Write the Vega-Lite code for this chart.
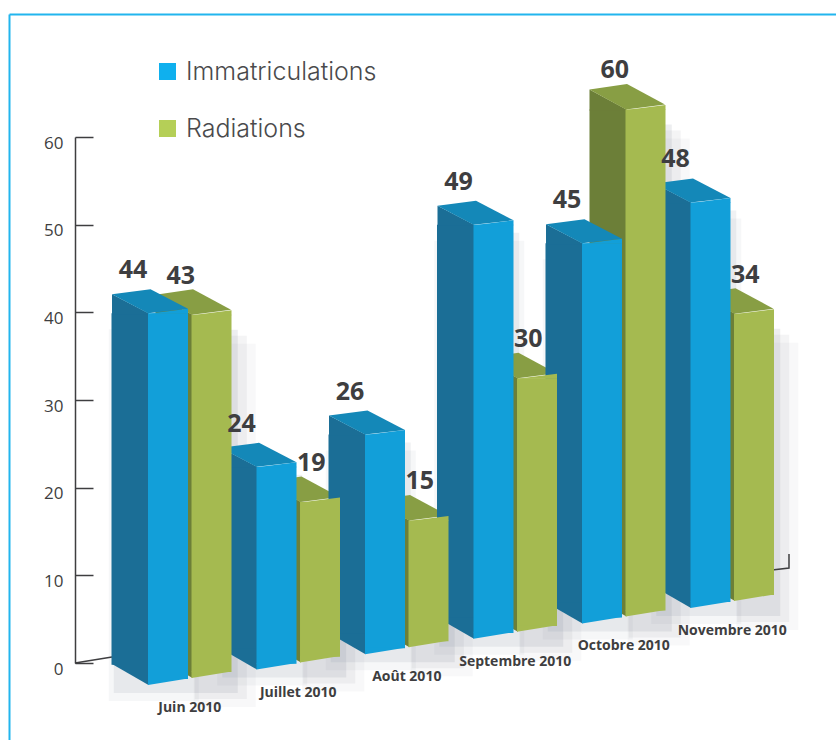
{
"$schema":"https://vega.github.io/schema/vega-lite/v6.json",
"width":827,"height":726,"autosize":{"type":"none"},
"padding":{"left":9,"top":14,"right":0,"bottom":0},
"background":"white",
"config":{"view":{"stroke":null}},
"params":[{"name":"months","value":["Juin 2010","Juillet 2010","Août 2010","Septembre 2010","Octobre 2010","Novembre 2010"]}],
"datasets":{"d":[
{"month":"Juin 2010","series":"Immatriculations","value":44},{"month":"Juin 2010","series":"Radiations","value":43},
{"month":"Juillet 2010","series":"Immatriculations","value":24},{"month":"Juillet 2010","series":"Radiations","value":19},
{"month":"Août 2010","series":"Immatriculations","value":26},{"month":"Août 2010","series":"Radiations","value":15},
{"month":"Septembre 2010","series":"Immatriculations","value":49},{"month":"Septembre 2010","series":"Radiations","value":30},
{"month":"Octobre 2010","series":"Immatriculations","value":45},{"month":"Octobre 2010","series":"Radiations","value":60},
{"month":"Novembre 2010","series":"Immatriculations","value":48},{"month":"Novembre 2010","series":"Radiations","value":34}
]},
"data":{"name":"d"},
"resolve":{"scale":{"x":"independent","y":"independent","color":"independent"}},
"layer":[
{"data":{"values":[{"a":0,"b":1}]},
 "mark":{"type":"point","opacity":0},
 "encoding":{
  "x":{"field":"a","type":"quantitative","scale":{"domain":[0,1]},"axis":{"orient":"top","title":null,"ticks":false,"labels":false,"grid":false,"domainColor":"#22b5ee","domainWidth":2}},
  "y":{"field":"b","type":"quantitative","scale":{"domain":[0,1]},"axis":{"orient":"left","title":null,"ticks":false,"labels":false,"grid":false,"domainColor":"#22b5ee","domainWidth":2}}
 }},
{"mark":{"type":"point","opacity":0},
 "encoding":{
  "y":{"field":"value","type":"quantitative","scale":{"domain":[0,60],"range":[649,123],"nice":false},
   "axis":{"orient":"left","title":null,"grid":false,"values":[0,10,20,30,40,50,60],"offset":-66,"domainColor":"#3e3e40","domainWidth":1.5,"tickColor":"#3e3e40","tickWidth":1.5,"tickSize":-18,"labelPadding":30,"labelFont":"Open Sans","labelFontSize":17,"labelColor":"#3e3e40","labelOffset":6}}
 }},
{"mark":{"type":"point","opacity":0,"filled":true},
 "encoding":{
  "color":{"field":"series","type":"nominal","scale":{"domain":["Immatriculations","Radiations"],"range":["#0fb0ee","#b5cf57"]},
   "legend":{"orient":"none","legendX":146,"legendY":45,"title":null,"symbolType":"square","symbolSize":289,"symbolOpacity":1,"symbolStrokeWidth":0,"labelFontSize":25,"labelFont":"Inter","labelFontWeight":300,"labelColor":"#4a4a4c","labelLimit":300,"rowPadding":31,"labelOffset":6}}
 }},
{"encoding":{
  "x":{"field":"month","type":"nominal","sort":null,"axis":null,"scale":{"type":"band","domain":["Juin 2010","Juillet 2010","Août 2010","Septembre 2010","Octobre 2010","Novembre 2010"],"range":[137.25,766.75],"paddingInner":0.198,"paddingOuter":0}},
  "y":{"field":"value","type":"quantitative","axis":null,"scale":{"domain":[0,60],"range":[671,164],"nice":false}}
 },
 "layer":[
 {"transform":[{"filter":"datum.series=='Radiations'"}],"mark":{"type":"bar","color":"#6e7785","opacity":0.12,"width":44,"xOffset":26,"yOffset":{"expr":"-15.4*indexof(months,datum.month)+8"},"y2Offset":{"expr":"-15.4*indexof(months,datum.month)+3"}},"encoding":{}},
 {"transform":[{"filter":"datum.series=='Radiations'"}],"mark":{"type":"bar","color":"#6e7785","opacity":0.08,"width":52,"xOffset":31,"yOffset":{"expr":"-15.4*indexof(months,datum.month)+14"},"y2Offset":{"expr":"-15.4*indexof(months,datum.month)+9"}},"encoding":{}},
 {"transform":[{"filter":"datum.series=='Radiations'"}],"mark":{"type":"bar","color":"#6e7785","opacity":0.05,"width":62,"xOffset":35,"yOffset":{"expr":"-15.4*indexof(months,datum.month)+22"},"y2Offset":{"expr":"-15.4*indexof(months,datum.month)+15"}},"encoding":{}},
 {"transform":[{"filter":"datum.series=='Immatriculations'"}],"mark":{"type":"bar","color":"#6e7785","opacity":0.1,"width":80,"xOffset":-36,"yOffset":{"expr":"-15.4*indexof(months,datum.month)+8"},"y2Offset":{"expr":"-15.4*indexof(months,datum.month)+8"}},"encoding":{}},
 {"transform":[{"filter":"datum.series=='Immatriculations'"}],"mark":{"type":"bar","color":"#6e7785","opacity":0.06,"width":90,"xOffset":-36,"yOffset":{"expr":"-15.4*indexof(months,datum.month)+16"},"y2Offset":{"expr":"-15.4*indexof(months,datum.month)+16"}},"encoding":{}},

 {"transform":[{"filter":"datum.month=='Juin 2010'&&datum.series=='Immatriculations'"}],"mark":{"type":"point","shape":"M-93,-22L-56,-28","size":4,"filled":false,"color":"#3e3e40","strokeWidth":1.5,"opacity":1,"xOffset":-21.75},"encoding":{"y":{"datum":0}}},
 {"transform":[{"filter":"datum.month=='Novembre 2010'&&datum.series=='Radiations'"}],"mark":{"type":"point","shape":"M18,-31L35,-33L35,-47","size":4,"filled":false,"color":"#3e3e40","strokeWidth":1.5,"opacity":1,"xOffset":21.75,"yOffset":{"expr":"-15.4*5-7"}},"encoding":{"y":{"datum":0}}},

 {"transform":[{"filter":"datum.series=='Radiations'"}],"mark":{"type":"bar","color":"#6c7f38","width":37,"xOffset":-15.75,"yOffset":{"expr":"-15.4*indexof(months,datum.month)-7"},"y2Offset":{"expr":"-15.4*indexof(months,datum.month)-7"}},"encoding":{"y2":{"datum":2.4}}},
 {"transform":[{"filter":"datum.series=='Radiations'"}],"mark":{"type":"point","shape":"M-56,-20L-19,0L-19,1L-56,1Z","size":4,"filled":true,"color":"#6c7f38","opacity":1,"xOffset":21.75,"yOffset":{"expr":"-15.4*indexof(months,datum.month)-7"}}},
 {"transform":[{"filter":"datum.series=='Radiations'"}],"mark":{"type":"point","shape":"M-56,-20L-19.5,0L19.5,-5L-18.5,-25.5Z","size":4,"filled":true,"color":"#889e44","opacity":1,"xOffset":21.75,"yOffset":{"expr":"-15.4*indexof(months,datum.month)-7"}}},
 {"transform":[{"filter":"datum.series=='Radiations'"}],"mark":{"type":"point","shape":"M-56,-21L-19,-21L-19,0Z","size":4,"filled":true,"color":"#6c7f38","opacity":1,"xOffset":21.75,"yOffset":{"expr":"-15.4*indexof(months,datum.month)-7"}},"encoding":{"y":{"datum":0}}},

 {"transform":[{"filter":"datum.series=='Immatriculations'"}],"mark":{"type":"bar","color":"#1b6e96","width":37,"xOffset":-59.75,"yOffset":{"expr":"-15.4*indexof(months,datum.month)"},"y2Offset":{"expr":"-15.4*indexof(months,datum.month)"}},"encoding":{"y2":{"datum":2.4}}},
 {"transform":[{"filter":"datum.series=='Immatriculations'"}],"mark":{"type":"point","shape":"M-56,-19L-19.5,0L-19.5,1L-56,1Z","size":4,"filled":true,"color":"#1b6e96","opacity":1,"xOffset":-21.75,"yOffset":{"expr":"-15.4*indexof(months,datum.month)"}}},
 {"transform":[{"filter":"datum.series=='Immatriculations'"}],"mark":{"type":"point","shape":"M-56,-19L-20,0L20,-4.5L-17.5,-24Z","size":4,"filled":true,"color":"#1488b8","opacity":1,"xOffset":-21.75,"yOffset":{"expr":"-15.4*indexof(months,datum.month)"}}},
 {"transform":[{"filter":"datum.series=='Immatriculations'"}],"mark":{"type":"point","shape":"M-56,-21L-19.5,-21L-19.5,0Z","size":4,"filled":true,"color":"#1b6e96","opacity":1,"xOffset":-21.75,"yOffset":{"expr":"-15.4*indexof(months,datum.month)"}},"encoding":{"y":{"datum":0}}},

 {"mark":{"type":"bar","width":40,"xOffset":{"expr":"datum.series=='Radiations'?21.75:-21.75"},"yOffset":{"expr":"-15.4*indexof(months,datum.month)-(datum.series=='Radiations'?7:0)"},"y2Offset":{"expr":"-15.4*indexof(months,datum.month)-(datum.series=='Radiations'?7:0)"}},
  "encoding":{"y2":{"datum":0.7},"color":{"field":"series","type":"nominal","legend":null,"scale":{"domain":["Immatriculations","Radiations"],"range":["#129fd9","#a5ba50"]}}}},
 {"transform":[{"filter":"datum.series=='Immatriculations'"}],"mark":{"type":"point","shape":"M-20,0.5L20,-4.5L20,0.5Z","size":4,"filled":true,"color":"#129fd9","opacity":1,"xOffset":-21.75,"yOffset":{"expr":"-15.4*indexof(months,datum.month)"}}},
 {"transform":[{"filter":"datum.series=='Radiations'"}],"mark":{"type":"point","shape":"M-20,0.5L20,-4.5L20,0.5Z","size":4,"filled":true,"color":"#a5ba50","opacity":1,"xOffset":21.75,"yOffset":{"expr":"-15.4*indexof(months,datum.month)-7"}}},
 {"transform":[{"filter":"datum.series=='Immatriculations'"}],"mark":{"type":"point","shape":"M-20,0L20,-6.5L-20,-6.5Z","size":4,"filled":true,"color":"#129fd9","opacity":1,"xOffset":-21.75,"yOffset":{"expr":"-15.4*indexof(months,datum.month)"}},"encoding":{"y":{"datum":0}}},
 {"transform":[{"filter":"datum.series=='Radiations'"}],"mark":{"type":"point","shape":"M-20,0L20,-6.5L-20,-6.5Z","size":4,"filled":true,"color":"#a5ba50","opacity":1,"xOffset":21.75,"yOffset":{"expr":"-15.4*indexof(months,datum.month)-7"}},"encoding":{"y":{"datum":0}}},

 {"mark":{"type":"text","font":"Open Sans","fontWeight":"bold","fontSize":25,"color":"#3e3e40","baseline":"middle","align":"center",
   "xOffset":{"expr":"datum.series=='Immatriculations'?-56.75:(datum.value>40?-9:13)"},
   "yOffset":{"expr":"-15.4*indexof(months,datum.month)-(datum.series=='Radiations'?46:43)"}},
  "encoding":{"text":{"field":"value","type":"quantitative"}}},
 {"transform":[{"filter":"datum.series=='Immatriculations'"}],
  "mark":{"type":"text","font":"Open Sans","fontWeight":"bold","fontSize":14,"color":"#3e3e40","baseline":"middle","align":"center","yOffset":{"expr":"-15.4*indexof(months,datum.month)+23"}},
  "encoding":{"y":{"datum":0},"text":{"field":"month","type":"nominal"}}}
 ]}
]
}
